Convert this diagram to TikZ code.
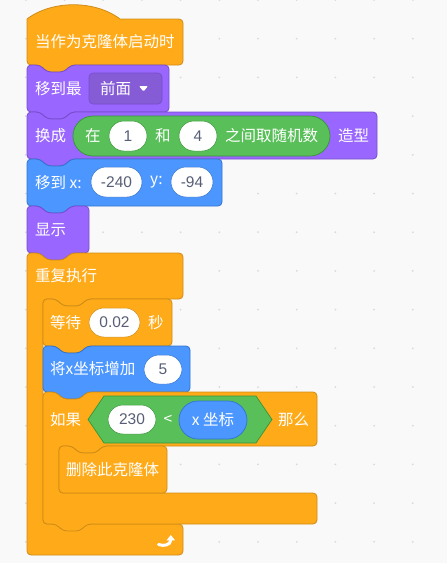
\documentclass[tikz,border=0pt]{standalone}
\usepackage{fontspec}
\setmainfont{Noto Sans CJK SC}
\newfontfamily\numfont{Liberation Sans}
\usetikzlibrary{arrows.meta}
\definecolor{bg}{HTML}{F9F9F9}
\definecolor{dotc}{HTML}{DADADA}
\definecolor{ctrlF}{HTML}{FFAB19}
\definecolor{ctrlD}{HTML}{CF8B17}
\definecolor{looksF}{HTML}{9966FF}
\definecolor{looksD}{HTML}{774DCB}
\definecolor{looksM}{HTML}{855CD6}
\definecolor{motF}{HTML}{4C97FF}
\definecolor{motD}{HTML}{3373CC}
\definecolor{opF}{HTML}{59C059}
\definecolor{opD}{HTML}{389438}
\definecolor{numgrey}{HTML}{575E75}
\tikzset{
  blk/.style={line width=0.8pt, rounded corners=4pt, line join=round},
  ctrl/.style={blk, fill=ctrlF, draw=ctrlD},
  looks/.style={blk, fill=looksF, draw=looksD},
  motion/.style={blk, fill=motF, draw=motD},
  lbl/.style={text=white, inner sep=0pt, anchor=west, font=\fontsize{15.5}{18}\selectfont},
  clbl/.style={text=white, inner sep=0pt, font=\fontsize{15.5}{18}\selectfont},
  numtxt/.style={text=numgrey, inner sep=0pt, font=\numfont\fontsize{15.5}{18}\selectfont},
  pill/.style={fill=white, draw=#1, line width=0.5pt, rounded corners=15pt},
}
\newcommand{\stackblk}[5]{\draw[#5] (#1,#2+20) -- (#1,#2) -- (#1+13,#2) -- (#1+20,#2+7) -- (#1+37,#2+7) -- (#1+44,#2) -- (#3,#2) -- (#3,#4) -- (#1+44,#4) -- (#1+37,#4+7) -- (#1+20,#4+7) -- (#1+13,#4) -- (#1,#4) -- cycle;}
\newcommand{\inpill}[7]{\draw[pill=#7] (#1,#2) rectangle (#3,#4);
  \node[numtxt] (#5) at ({(#1+#3)/2},{(#2+#4)/2}) {#6};}
\begin{document}
\begin{tikzpicture}[x=1pt,y=-1pt]
\useasboundingbox (0,0) rectangle (447,563);
\fill[bg] (0,0) rectangle (447,563);
\foreach \i in {0,...,11}{\foreach \j in {0,...,14}{\fill[dotc] (25.8+38.7*\i,38.7*\j) circle (1pt);}}

% hat block
\draw[ctrl] (27,42) [sharp corners] -- (27,19) .. controls (52,0) and (95,0) .. (120,19) [rounded corners=4pt] -- (183,19) -- (183,65) -- (71,65) -- (64,72) -- (47,72) -- (40,65) -- (27,65) -- cycle;
\node[lbl] (hat) at (35,42) {当作为克隆体启动时};

% go to front
\stackblk{27}{65}{169}{112}{looks}
\node[lbl] (front) at (35,88.5) {移到最};
\draw[fill=looksM, draw=looksD, line width=0.6pt, rounded corners=4pt] (89,73) rectangle (162,104);
\node[lbl] (frontdd) at (100,88.5) {前面};
\fill[white, rounded corners=1pt] (139,86) -- (148,86) -- (143.5,91.5) -- cycle;

% switch costume
\stackblk{27}{112}{377}{159}{looks}
\node[lbl] (sw) at (35,135.5) {换成};
\draw[fill=opF, draw=opD, line width=0.7pt, rounded corners=20pt] (73,116) rectangle (330,156);
\node[lbl] (zai) at (85,136) {在};
\inpill{109}{121}{147}{151}{one}{1}{opD}
\node[lbl] (he) at (155,136) {和};
\inpill{179}{121}{217}{151}{four}{4}{opD}
\node[lbl] (rand) at (225,136) {之间取随机数};
\node[lbl] (cost) at (338,135.5) {造型};

% go to x y
\stackblk{27}{159}{222}{206}{motion}
\node[lbl] (goto) at (35,182.5) {移到 x:};
\inpill{91}{167}{142}{197}{xval}{-240}{motD}
\node[lbl] (ylab) at (150,182.5) {y:};
\inpill{171}{167}{213}{197}{yval}{-94}{motD}

% show
\stackblk{27}{206}{89}{253}{looks}
\node[lbl] (show) at (35,229.5) {显示};

% forever
\draw[ctrl] (27,273) -- (27,253) -- (40,253) -- (47,260) -- (64,260) -- (71,253) -- (183,253) -- (183,299) -- (87,299) -- (80,306) -- (63,306) -- (56,299) -- (43,299) -- (43,524) -- (183,524) -- (183,555) -- (27,555) -- cycle;
\node[lbl] (forever) at (35,276) {重复执行};
\draw[white, line width=3pt, line cap=round] (158.5,544.5) .. controls (164,546.5) and (170.5,545) .. (170.8,540);
\fill[white, line join=round] (166.6,540.3) -- (175,540.3) -- (170.8,535) -- cycle;

% wait
\stackblk{43}{299}{172}{346}{ctrl}
\node[lbl] (wait) at (50,322.5) {等待};
\inpill{89}{308}{140}{337}{wt}{0.02}{ctrlD}
\node[lbl] (sec) at (148,322.5) {秒};

% change x
\stackblk{43}{346}{190}{392}{motion}
\node[lbl] (chx) at (50,369) {将x坐标增加};
\inpill{144}{355}{182}{384}{five}{5}{motD}

% if
\draw[ctrl] (43,412) -- (43,392) -- (56,392) -- (63,399) -- (80,399) -- (87,392) -- (317,392) -- (317,446) -- (103,446) -- (96,453) -- (79,453) -- (72,446) -- (59,446) -- (59,493) -- (317,493) -- (317,524) -- (87,524) -- (80,531) -- (63,531) -- (56,524) -- (43,524) -- cycle;
\node[lbl] (ifl) at (50,420) {如果};
\draw[fill=opF, draw=opD, line width=0.7pt, line join=round] (88,419.5) -- (104,396) -- (256,396) -- (272,419.5) -- (256,443) -- (104,443) -- cycle;
\inpill{108}{405}{156}{434}{v230}{230}{opD}
\node[clbl] (lt) at (168,419.5) {<};
\draw[fill=motF, draw=motD, line width=0.7pt, rounded corners=19pt] (179,401) rectangle (247,439);
\node[clbl] (xpos) at (213,420) {x 坐标};
\node[lbl] (then) at (278,420) {那么};

% delete this clone (cap)
\draw[ctrl] (59,466) -- (59,446) -- (72,446) -- (79,453) -- (96,453) -- (103,446) -- (167,446) -- (167,493) -- (59,493) -- cycle;
\node[lbl] (del) at (66,470) {删除此克隆体};
\end{tikzpicture}
\end{document}
